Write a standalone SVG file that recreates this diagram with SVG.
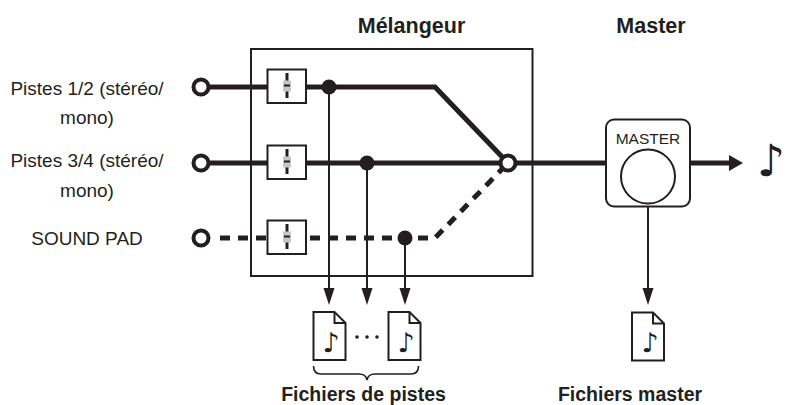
<svg xmlns="http://www.w3.org/2000/svg" width="786" height="405" viewBox="0 0 786 405">
<style>
.t{font-family:"Liberation Sans",Arial,sans-serif;fill:#231f20}
.lbl{font-size:19px;text-anchor:middle}
.ttl{font-size:21.5px;font-weight:bold;text-anchor:middle}
.cap{font-size:19.5px;font-weight:bold;text-anchor:middle}
.note{font-family:"DejaVu Sans",sans-serif;fill:#231f20}
.thick{stroke:#231f20;stroke-width:5;fill:none}
.dash{stroke:#231f20;stroke-width:5;fill:none;stroke-dasharray:10 8}
.thin{stroke:#231f20;stroke-width:2;fill:none}
.port{fill:#fff;stroke:#231f20;stroke-width:4}
.dot{fill:#231f20}
.box{fill:#fff;stroke:#231f20;stroke-width:2}
</style>
<defs>
<marker id="ah" markerUnits="userSpaceOnUse" viewBox="0 -6 18 12" markerWidth="18" markerHeight="12" refX="0" refY="0" orient="auto">
<path d="M0,-5.5 L17,0 L0,5.5 Z" fill="#231f20"/>
</marker>
<g id="fader">
<rect x="-19.5" y="-17.5" width="38.5" height="33.5" class="box"/>
<line x1="0" y1="-14" x2="0" y2="11" stroke="#231f20" stroke-width="3"/>
<rect x="-4" y="-6.5" width="8" height="11" fill="#c6c6c6"/>
<line x1="-3" y1="-1.5" x2="3" y2="-1.5" stroke="#231f20" stroke-width="2"/>
</g>
<g id="file">
<path d="M0,0 L21,0 L32,11 L32,48 L0,48 Z" class="box"/>
<path d="M21,0 L21,11 L32,11" class="thin"/>
</g>
</defs>

<g id="mixer">
<rect x="251" y="49" width="281.5" height="227" fill="none" stroke="#231f20" stroke-width="2"/>
<text class="t ttl" x="411.5" y="33">Mélangeur</text>
</g>

<g id="connectors">
<path d="M201,87 L435,87 L508,163" class="thick"/>
<path d="M201,163 L606,163" class="thick"/>
<path d="M220,238 L435,238 L508,163" class="dash"/>
<path d="M690,163 L731,163" class="thick"/>
<polygon points="729,155 743,163 729,171" fill="#231f20"/>
<line x1="329" y1="87" x2="329" y2="288" class="thin" marker-end="url(#ah)"/>
<line x1="367" y1="163" x2="367" y2="288" class="thin" marker-end="url(#ah)"/>
<line x1="405" y1="238" x2="405" y2="288" class="thin" marker-end="url(#ah)"/>
<line x1="648" y1="207" x2="648" y2="288" class="thin" marker-end="url(#ah)"/>
</g>

<g id="input1">
<circle cx="201" cy="87" r="7.5" class="port"/>
<text class="t lbl" x="87" y="95">Pistes 1/2 (stéréo/</text>
<text class="t lbl" x="87" y="124">mono)</text>
</g>
<g id="input2">
<circle cx="201" cy="163" r="7.5" class="port"/>
<text class="t lbl" x="87" y="167">Pistes 3/4 (stéréo/</text>
<text class="t lbl" x="87" y="197">mono)</text>
</g>
<g id="input3">
<circle cx="201" cy="238" r="7.5" class="port"/>
<text class="t lbl" x="87" y="245">SOUND PAD</text>
</g>

<g id="fader1"><use href="#fader" x="287" y="87"/></g>
<g id="fader2"><use href="#fader" x="287" y="163"/></g>
<g id="fader3"><use href="#fader" x="287" y="238"/></g>

<g id="junctions">
<circle cx="329" cy="87" r="7.5" class="dot"/>
<circle cx="367" cy="163" r="7.5" class="dot"/>
<circle cx="405" cy="238" r="7.5" class="dot"/>
</g>

<g id="sum">
<circle cx="508" cy="163" r="7.5" class="port"/>
</g>

<g id="master">
<text class="t ttl" x="651" y="33">Master</text>
<rect x="606" y="119.5" width="84" height="87" rx="8" class="box"/>
<text class="t" x="648" y="143.5" font-size="15.5" text-anchor="middle">MASTER</text>
<circle cx="648" cy="176.5" r="27" class="box"/>
</g>

<g id="output">
<text class="note" x="757" y="176" font-size="44">♪</text>
</g>

<g id="trackfiles">
<use href="#file" x="313.5" y="312"/>
<text class="note" x="331" y="352" font-size="27" text-anchor="middle">♪</text>
<use href="#file" x="388.5" y="312"/>
<text class="note" x="406" y="352" font-size="27" text-anchor="middle">♪</text>
<circle cx="357" cy="337" r="1.8" class="dot"/>
<circle cx="367" cy="337" r="1.8" class="dot"/>
<circle cx="377" cy="337" r="1.8" class="dot"/>
<path d="M313.5,366 Q313.5,374 321,374 L359,374 Q366,374 367,380 Q368,374 375,374 L411,374 Q418.5,374 418.5,366" fill="none" stroke="#231f20" stroke-width="1.6"/>
<text class="t cap" x="363.5" y="401">Fichiers de pistes</text>
</g>

<g id="masterfile">
<use href="#file" x="632" y="312.5"/>
<text class="note" x="650" y="352" font-size="27" text-anchor="middle">♪</text>
<text class="t cap" x="630" y="401">Fichiers master</text>
</g>
</svg>
